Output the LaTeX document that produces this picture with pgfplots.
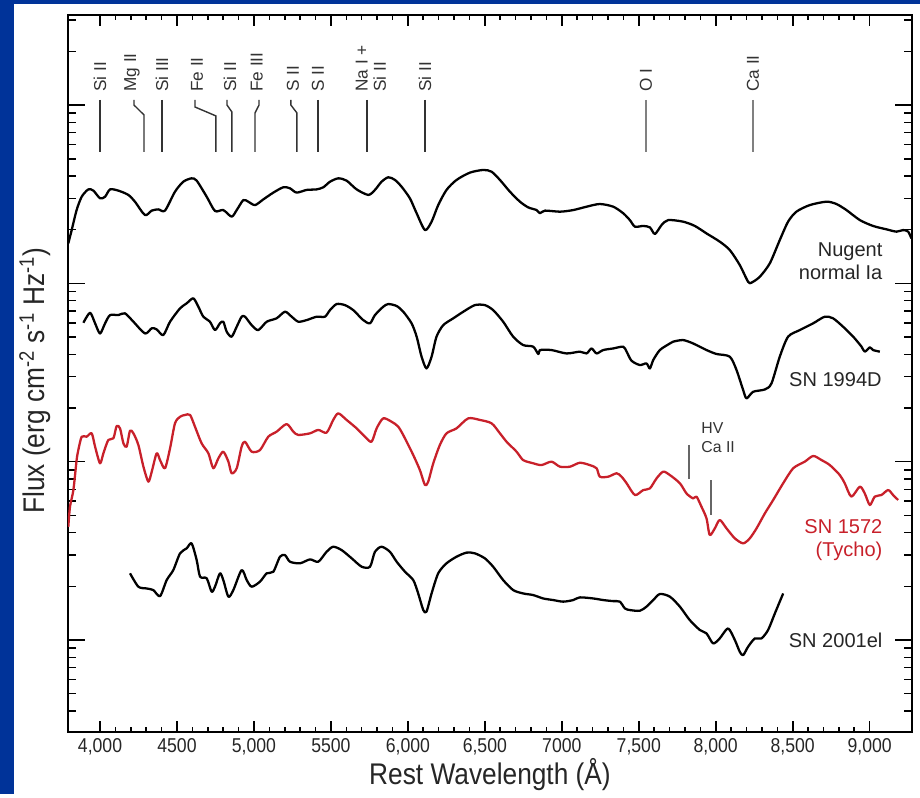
\documentclass[border=0pt]{standalone}
\usepackage{fontspec}
\setmainfont{Liberation Sans}
\usepackage{pgfplots}
\pgfplotsset{compat=1.18}
\usetikzlibrary{backgrounds}
\definecolor{slideblue}{HTML}{003399}
\definecolor{tychored}{HTML}{C8202A}
\definecolor{annot}{HTML}{333333}

\begin{document}
\begin{tikzpicture}
\begin{axis}[
  at={(0,0)}, anchor=south west,
  scale only axis, width=16.88cm, height=14.34cm,
  xmin=3792, xmax=9275, ymin=-0.516, ymax=3.505,
  axis line style={line width=1.6pt},
  no markers,
  every axis plot/.append style={smooth, tension=0.45, line join=round},
  xtick={4000,4500,5000,5500,6000,6500,7000,7500,8000,8500,9000},
  xticklabels={{4,000},4500,{5,000},5500,{6,000},{6,500},7000,{7,500},{8,000},{8,500},{9,000}},
  minor x tick num=4,
  ytick={0,1,2,3},
  yticklabels={},
  minor ytick={-0.398,-0.301,-0.222,-0.155,-0.097,-0.046,
    0.301,0.477,0.602,0.699,0.778,0.845,0.903,0.954,
    1.301,1.477,1.602,1.699,1.778,1.845,1.903,1.954,
    2.301,2.477,2.602,2.699,2.778,2.845,2.903,2.954,
    3.301,3.477},
  xtick style={line width=0.9pt, black, /pgfplots/major tick length=0.22cm, /pgfplots/minor tick length=0.1cm},
  ytick style={line width=0.9pt, black, /pgfplots/major tick length=0.34cm, /pgfplots/minor tick length=0.17cm},
  xticklabel style={font=\fontsize{11.4}{13}\selectfont, xscale=0.88, text=black!85},
  xlabel={Rest Wavelength (Å)},
  ylabel={Flux (erg cm\textsuperscript{-2} s\textsuperscript{-1} Hz\textsuperscript{-1})},
  every axis x label/.style={at={(axis description cs:0.5,-0.06)}, anchor=center, font=\fontsize{17}{20}\selectfont, xscale=0.88, text=black!85},
  every axis y label/.style={at={(axis description cs:-0.039,0.49)}, anchor=center, rotate=90, font=\fontsize{17}{20}\selectfont, xscale=0.88, text=black!85},
]

% Nugent normal Ia template
\addplot[black, line width=1.3pt] coordinates {
(3794,2.224)(3816,2.299)(3848,2.411)(3881,2.486)(3924,2.527)(3957,2.520)(4000,2.477)(4033,2.486)(4065,2.527)(4119,2.520)(4184,2.496)(4227,2.458)(4292,2.383)(4336,2.408)(4379,2.415)(4422,2.408)(4487,2.514)(4541,2.570)(4595,2.589)(4628,2.576)(4693,2.486)(4747,2.406)(4801,2.411)(4855,2.374)(4888,2.411)(4931,2.467)(4963,2.458)(5007,2.439)(5061,2.471)(5126,2.509)(5191,2.539)(5234,2.533)(5277,2.509)(5342,2.524)(5407,2.527)(5451,2.539)(5494,2.570)(5548,2.589)(5602,2.576)(5667,2.527)(5743,2.496)(5786,2.524)(5829,2.570)(5873,2.595)(5916,2.580)(5959,2.542)(6013,2.477)(6057,2.393)(6111,2.299)(6154,2.346)(6197,2.439)(6251,2.524)(6316,2.580)(6403,2.621)(6490,2.636)(6544,2.626)(6598,2.580)(6663,2.514)(6728,2.458)(6782,2.426)(6836,2.411)(6858,2.393)(6890,2.408)(6988,2.402)(7074,2.411)(7161,2.430)(7247,2.445)(7334,2.430)(7399,2.393)(7442,2.355)(7475,2.318)(7529,2.322)(7572,2.314)(7605,2.277)(7648,2.327)(7691,2.355)(7788,2.346)(7864,2.322)(7940,2.280)(8026,2.234)(8091,2.187)(8156,2.103)(8210,2.009)(8232,2.004)(8286,2.037)(8351,2.112)(8416,2.243)(8470,2.346)(8524,2.402)(8611,2.439)(8719,2.458)(8784,2.445)(8849,2.411)(8936,2.355)(9022,2.322)(9109,2.303)(9174,2.290)(9217,2.299)(9250,2.290)(9271,2.252)
};

% SN 1994D
\addplot[black, line width=1.3pt] coordinates {
(3892,1.779)(3935,1.835)(3968,1.776)(4000,1.719)(4033,1.776)(4065,1.822)(4119,1.822)(4162,1.832)(4217,1.785)(4292,1.719)(4336,1.748)(4368,1.742)(4411,1.710)(4455,1.785)(4520,1.860)(4563,1.888)(4606,1.916)(4639,1.869)(4671,1.813)(4714,1.785)(4747,1.738)(4779,1.776)(4801,1.785)(4823,1.729)(4855,1.701)(4888,1.757)(4920,1.813)(4942,1.813)(4985,1.766)(5028,1.738)(5083,1.785)(5147,1.804)(5202,1.841)(5245,1.813)(5288,1.785)(5342,1.794)(5407,1.813)(5461,1.813)(5494,1.850)(5537,1.884)(5591,1.878)(5645,1.850)(5710,1.794)(5754,1.776)(5786,1.822)(5840,1.869)(5873,1.884)(5927,1.873)(5970,1.841)(6024,1.776)(6057,1.701)(6089,1.589)(6121,1.523)(6154,1.589)(6186,1.701)(6230,1.766)(6295,1.804)(6360,1.841)(6435,1.878)(6500,1.878)(6554,1.850)(6619,1.785)(6684,1.701)(6749,1.654)(6814,1.645)(6847,1.604)(6858,1.626)(6933,1.626)(7031,1.607)(7117,1.617)(7161,1.607)(7193,1.635)(7226,1.607)(7269,1.626)(7334,1.635)(7399,1.645)(7421,1.617)(7453,1.566)(7507,1.542)(7550,1.551)(7572,1.523)(7594,1.570)(7637,1.626)(7702,1.663)(7723,1.673)(7788,1.682)(7853,1.663)(7940,1.626)(8005,1.604)(8091,1.589)(8135,1.514)(8178,1.402)(8200,1.355)(8243,1.392)(8319,1.405)(8362,1.439)(8416,1.589)(8470,1.701)(8546,1.738)(8633,1.776)(8708,1.813)(8762,1.804)(8827,1.757)(8893,1.701)(8947,1.645)(8968,1.617)(9001,1.641)(9022,1.626)(9066,1.617)
};

% SN 1572 (Tycho), light echo
\addplot[tychored, line width=1.3pt] coordinates {
(3794,0.635)(3805,0.748)(3827,0.841)(3848,1.009)(3859,1.065)(3881,1.140)(3913,1.140)(3946,1.159)(3968,1.084)(4000,0.991)(4022,1.047)(4054,1.122)(4087,1.131)(4108,1.200)(4130,1.187)(4152,1.103)(4173,1.084)(4195,1.174)(4217,1.159)(4249,1.094)(4282,0.972)(4314,0.888)(4336,0.944)(4368,1.047)(4390,1.009)(4422,0.963)(4455,1.075)(4487,1.215)(4520,1.252)(4552,1.262)(4585,1.262)(4617,1.196)(4660,1.103)(4704,1.047)(4736,0.963)(4769,1.019)(4801,1.056)(4834,1.000)(4855,0.935)(4888,0.963)(4920,1.084)(4942,1.112)(4985,1.056)(5039,1.065)(5093,1.140)(5147,1.168)(5212,1.211)(5256,1.168)(5288,1.150)(5364,1.159)(5418,1.178)(5472,1.163)(5515,1.234)(5548,1.271)(5602,1.234)(5667,1.187)(5721,1.140)(5764,1.112)(5797,1.187)(5840,1.243)(5894,1.224)(5938,1.196)(5981,1.131)(6035,1.037)(6078,0.953)(6111,0.869)(6132,0.888)(6165,0.991)(6208,1.094)(6251,1.159)(6316,1.187)(6392,1.243)(6468,1.234)(6544,1.215)(6598,1.159)(6641,1.112)(6706,1.056)(6749,1.009)(6814,0.991)(6868,0.981)(6933,1.000)(6988,0.972)(7053,0.972)(7117,0.994)(7182,0.981)(7226,0.963)(7247,0.916)(7302,0.916)(7356,0.935)(7388,0.916)(7421,0.879)(7475,0.813)(7529,0.841)(7572,0.850)(7616,0.907)(7659,0.944)(7702,0.925)(7767,0.879)(7810,0.822)(7853,0.794)(7875,0.804)(7907,0.748)(7940,0.682)(7961,0.589)(7994,0.626)(8026,0.673)(8070,0.626)(8124,0.570)(8178,0.542)(8221,0.570)(8265,0.626)(8319,0.710)(8373,0.785)(8438,0.879)(8503,0.963)(8578,1.000)(8633,1.032)(8687,1.009)(8741,0.981)(8806,0.925)(8838,0.879)(8881,0.804)(8936,0.860)(8968,0.822)(9001,0.757)(9033,0.804)(9076,0.813)(9120,0.841)(9152,0.813)(9185,0.785)
};

% SN 2001el
\addplot[black, line width=1.3pt] coordinates {
(4195,0.374)(4249,0.299)(4303,0.289)(4346,0.280)(4390,0.246)(4433,0.336)(4476,0.392)(4520,0.486)(4563,0.514)(4595,0.542)(4628,0.448)(4650,0.355)(4693,0.346)(4725,0.271)(4747,0.299)(4779,0.374)(4801,0.336)(4834,0.243)(4866,0.280)(4920,0.392)(4953,0.336)(4985,0.299)(5039,0.327)(5083,0.374)(5126,0.383)(5169,0.467)(5202,0.476)(5234,0.439)(5299,0.430)(5364,0.452)(5418,0.439)(5472,0.495)(5515,0.523)(5570,0.504)(5635,0.458)(5700,0.411)(5754,0.411)(5786,0.495)(5829,0.523)(5883,0.495)(5927,0.439)(5981,0.383)(6035,0.336)(6067,0.261)(6100,0.168)(6121,0.159)(6154,0.261)(6197,0.374)(6251,0.430)(6316,0.467)(6381,0.490)(6435,0.486)(6500,0.458)(6554,0.411)(6619,0.336)(6684,0.280)(6749,0.261)(6814,0.252)(6879,0.233)(6944,0.224)(7009,0.215)(7074,0.224)(7117,0.239)(7204,0.233)(7269,0.224)(7334,0.218)(7377,0.215)(7410,0.177)(7442,0.168)(7507,0.164)(7550,0.187)(7594,0.224)(7637,0.258)(7702,0.243)(7767,0.187)(7831,0.112)(7897,0.056)(7940,0.037)(7983,-0.019)(8026,0.009)(8080,0.065)(8124,0.000)(8156,-0.066)(8178,-0.085)(8210,-0.038)(8254,0.009)(8297,0.009)(8340,0.056)(8384,0.149)(8438,0.261)
};

% line identifications
\begin{scope}[annot, line width=0.8pt]
\draw (axis cs:4000,3.029) -- (axis cs:4000,2.737);
\draw (axis cs:4221,3.029) -- (axis cs:4221,3.000) -- (axis cs:4286,2.944) -- (axis cs:4286,2.737);
\draw (axis cs:4403,3.029) -- (axis cs:4403,2.737);
\draw (axis cs:4617,3.029) -- (axis cs:4617,2.989) -- (axis cs:4753,2.939) -- (axis cs:4753,2.737);
\draw (axis cs:4825,3.029) -- (axis cs:4825,3.000) -- (axis cs:4857,2.961) -- (axis cs:4857,2.737);
\draw (axis cs:5033,3.029) -- (axis cs:5033,3.000) -- (axis cs:5007,2.956) -- (axis cs:5007,2.737);
\draw (axis cs:5240,3.029) -- (axis cs:5240,3.000) -- (axis cs:5279,2.956) -- (axis cs:5279,2.737);
\draw (axis cs:5416,3.029) -- (axis cs:5416,2.737);
\draw (axis cs:5734,3.029) -- (axis cs:5734,2.737);
\draw (axis cs:6111,3.029) -- (axis cs:6111,2.737);
\draw[gray] (axis cs:7546,3.029) -- (axis cs:7546,2.737);
\draw[gray] (axis cs:8241,3.029) -- (axis cs:8241,2.737);
\end{scope}
\begin{scope}[every node/.style={rotate=90, anchor=west, inner sep=0pt, text=annot, font=\fontsize{9.8}{10.4}\selectfont}]
\node at (axis cs:4000,3.073) {Si II};
\node at (axis cs:4208,3.073) {Mg II};
\node at (axis cs:4403,3.073) {Si III};
\node at (axis cs:4630,3.073) {Fe II};
\node at (axis cs:4844,3.073) {Si II};
\node at (axis cs:5019,3.073) {Fe III};
\node at (axis cs:5253,3.073) {S II};
\node at (axis cs:5416,3.073) {S II};
\node[align=left] at (axis cs:5760,3.073) {Na I +\\Si II};
\node at (axis cs:6111,3.073) {Si II};
\node at (axis cs:7546,3.073) {O I};
\node at (axis cs:8241,3.073) {Ca II};
\end{scope}

% high-velocity Ca II marks
\draw[gray!80!black, line width=0.8pt] (axis cs:7825,1.094) -- (axis cs:7825,0.903);
\draw[gray!80!black, line width=0.8pt] (axis cs:7968,0.897) -- (axis cs:7968,0.701);
\node[anchor=west, align=left, inner sep=0pt, text=annot, font=\fontsize{9}{10.8}\selectfont] at (axis cs:7905,1.136) {HV\\Ca II};

% spectrum names
\begin{scope}[every node/.style={anchor=east, align=right, inner sep=0pt, font=\fontsize{11.4}{13}\selectfont}]
\node[text=black!85] at (axis cs:9085,2.123) {Nugent\\normal Ia};
\node[text=black!85] at (axis cs:9080,1.458) {SN 1994D};
\node[text=tychored] at (axis cs:9085,0.561) {SN 1572\\(Tycho)};
\node[text=black!85] at (axis cs:9085,0) {SN 2001el};
\end{scope}
\end{axis}

\begin{scope}[on background layer, shift={(current axis.south west)}]
\fill[white] (-1.36,-1.24) rectangle (17.04,14.64);
\fill[slideblue] (-1.36,-1.24) rectangle (-1.08,14.64);
\fill[slideblue] (-1.36,14.56) rectangle (17.04,14.64);
\end{scope}
\end{tikzpicture}
\end{document}
